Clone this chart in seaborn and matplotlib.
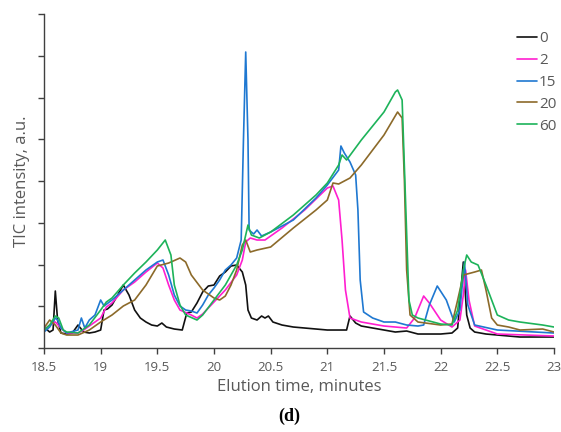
#!/usr/bin/env python3
"""TIC chromatograms, panel (d)"""

import pandas as pd
import numpy as np
import matplotlib
matplotlib.use('Agg')
import matplotlib.pyplot as plt
import seaborn as sns

sns.set_theme(style='white')
plt.rcParams['font.family'] = ['Open Sans', 'DejaVu Sans']

# series: retention time (min) and TIC intensity (a.u.)
t0 = [18.5, 18.55, 18.58, 18.6, 18.62, 18.65, 18.7, 18.75, 18.8, 18.85, 18.9, 18.95, 19.0, 19.03,
      19.06, 19.1, 19.15, 19.2, 19.25, 19.3, 19.35, 19.4, 19.45, 19.5, 19.54, 19.58, 19.65, 19.72,
      19.76, 19.8, 19.85, 19.9, 19.95, 20.0, 20.05, 20.1, 20.15, 20.2, 20.25, 20.28, 20.3, 20.33,
      20.38, 20.42, 20.45, 20.48, 20.52, 20.6, 20.7, 20.8, 21.0, 21.1, 21.17, 21.2, 21.25, 21.3,
      21.4, 21.5, 21.6, 21.7, 21.8, 21.9, 22.0, 22.1, 22.15, 22.2, 22.23, 22.26, 22.3, 22.4, 22.5,
      22.7, 22.9, 23.0]
i0 = [21, 16, 18, 57, 28, 15, 14, 15, 23, 16, 15, 16, 18, 38,
      39, 43, 53, 63, 53, 38, 30, 26, 23, 22, 25, 21, 19, 18,
      35, 36, 45, 56, 62, 63, 72, 76, 82, 83, 76, 63, 38, 30,
      28, 32, 30, 32, 26, 23, 21, 20, 18, 18, 18, 32, 25, 22,
      20, 18, 16, 17, 14, 14, 14, 15, 20, 86, 33, 20, 16, 14, 13,
      11, 11, 11]

t2 = [18.5, 18.55, 18.6, 18.65, 18.7, 18.8, 18.85, 18.9, 18.95, 19.0, 19.05, 19.1, 19.2, 19.3,
      19.4, 19.5, 19.55, 19.6, 19.65, 19.7, 19.8, 19.85, 19.9, 20.0, 20.1, 20.2, 20.25, 20.28,
      20.32, 20.38, 20.45, 20.5, 20.6, 20.8, 21.0, 21.05, 21.1, 21.13, 21.16, 21.2, 21.3, 21.5,
      21.7, 21.77, 21.85, 21.9, 22.0, 22.1, 22.17, 22.2, 22.22, 22.25, 22.3, 22.5, 23.0]
i2 = [18, 23, 26, 20, 15, 15, 18, 22, 26, 30, 41, 45, 58, 66,
      76, 85, 80, 63, 48, 38, 33, 30, 34, 46, 58, 73, 88, 106,
      110, 108, 108, 112, 120, 138, 160, 162, 148, 108, 58, 30, 26, 22,
      20, 30, 52, 45, 28, 21, 28, 53, 78, 48, 22, 14, 12]

t15 = [18.5, 18.55, 18.6, 18.62, 18.65, 18.7, 18.8, 18.83, 18.86, 18.9, 18.95, 19.0, 19.03,
       19.1, 19.2, 19.3, 19.4, 19.5, 19.55, 19.6, 19.65, 19.7, 19.75, 19.8, 19.85, 19.9, 19.95,
       20.0, 20.05, 20.1, 20.15, 20.2, 20.24, 20.26, 20.28, 20.3, 20.31, 20.35, 20.38, 20.42,
       20.5, 20.7, 20.9, 21.0, 21.1, 21.12, 21.15, 21.2, 21.25, 21.27, 21.29, 21.32, 21.4, 21.5,
       21.6, 21.7, 21.8, 21.85, 21.9, 21.97, 22.05, 22.12, 22.17, 22.21, 22.24, 22.3, 22.5, 23.0]
i15 = [16, 21, 30, 28, 20, 15, 18, 30, 20, 28, 33, 48, 42,
       48, 58, 68, 78, 86, 88, 73, 53, 42, 38, 37, 35, 43, 53,
       60, 68, 78, 83, 90, 108, 208, 296, 208, 118, 114, 118, 112,
       116, 128, 150, 163, 178, 202, 195, 186, 173, 138, 68, 36, 30, 26,
       26, 23, 22, 23, 43, 62, 48, 26, 38, 86, 43, 23, 18, 15]

t20 = [18.5, 18.55, 18.6, 18.65, 18.7, 18.8, 18.9, 19.0, 19.1, 19.2, 19.3, 19.4, 19.5, 19.6,
       19.7, 19.75, 19.8, 19.9, 20.0, 20.05, 20.1, 20.15, 20.2, 20.25, 20.28, 20.32, 20.38, 20.5,
       20.7, 20.9, 21.0, 21.05, 21.1, 21.2, 21.3, 21.4, 21.5, 21.62, 21.66, 21.68, 21.7, 21.73,
       21.8, 22.0, 22.1, 22.15, 22.2, 22.3, 22.36, 22.4, 22.45, 22.5, 22.6, 22.7, 22.9, 23.0]
i20 = [20, 28, 23, 15, 13, 13, 18, 26, 33, 42, 48, 63, 82, 85,
       90, 86, 73, 58, 50, 48, 52, 63, 78, 103, 108, 96, 98, 101,
       120, 138, 148, 165, 164, 170, 183, 198, 213, 236, 230, 168, 78, 33,
       26, 23, 24, 48, 73, 76, 78, 58, 30, 23, 21, 18, 19, 16]

t60 = [18.5, 18.55, 18.6, 18.63, 18.67, 18.7, 18.8, 18.9, 19.0, 19.05, 19.1, 19.2, 19.3, 19.4,
       19.5, 19.57, 19.62, 19.65, 19.7, 19.75, 19.85, 19.9, 20.0, 20.1, 20.2, 20.25, 20.3, 20.33,
       20.4, 20.5, 20.7, 20.9, 21.0, 21.1, 21.13, 21.17, 21.3, 21.5, 21.6, 21.62, 21.66, 21.69,
       21.72, 21.75, 21.8, 22.0, 22.1, 22.15, 22.2, 22.23, 22.27, 22.33, 22.4, 22.5, 22.6, 22.7,
       22.9, 23.0]
i60 = [18, 23, 32, 30, 18, 16, 15, 23, 38, 46, 50, 63, 75, 86,
       98, 108, 93, 63, 43, 33, 28, 33, 48, 63, 83, 98, 123, 113,
       110, 116, 133, 153, 165, 183, 193, 188, 208, 236, 256, 258, 248, 148,
       48, 33, 30, 24, 23, 38, 78, 93, 86, 83, 63, 33, 28, 26,
       23, 21]

labels = ['0', '2', '15', '20', '60']
colors = ['#111111', '#ff1fd0', '#1f78d1', '#8c6a2a', '#1db35a']

frames = []
for lab, t, v in zip(labels, [t0, t2, t15, t20, t60], [i0, i2, i15, i20, i60]):
    frames.append(pd.DataFrame({'time': t, 'tic': v, 'sample': lab}))
df = pd.concat(frames, ignore_index=True)

fig = plt.figure(figsize=(5.61, 4.32), dpi=100)
ax = fig.add_axes([0.0784, 0.1944, 0.9091, 0.7732])

sns.lineplot(data=df, x='time', y='tic', hue='sample', hue_order=labels,
             palette=colors, sort=False, estimator=None, linewidth=1.2, ax=ax)

ax.set_xlim(18.5, 23)
ax.set_ylim(0, 334)
ax.set_xticks(np.arange(18.5, 23.01, 0.5))
ax.set_xticklabels(['18.5', '19', '19.5', '20', '20.5', '21', '21.5', '22', '22.5', '23'])
ax.set_yticks(np.linspace(0, 334, 9))
ax.set_yticklabels([])

for s in ['top', 'right']:
    ax.spines[s].set_visible(False)
for s in ['left', 'bottom']:
    ax.spines[s].set_color('#404040')
    ax.spines[s].set_linewidth(1.0)
ax.tick_params(axis='both', direction='out', length=4, width=1.0, color='#404040',
               labelsize=9.5, labelcolor='#595959', bottom=True, left=True, pad=5)

ax.set_xlabel('Elution time, minutes', fontsize=12, color='#595959', labelpad=4)
ax.set_ylabel('TIC intensity, a.u.', fontsize=12, color='#595959', labelpad=1)

handles, _ = ax.get_legend_handles_labels()
leg = ax.legend(handles, labels, loc='upper left', bbox_to_anchor=(0.915, 0.967),
                frameon=False, fontsize=11, handlelength=1.3, handletextpad=0.15,
                labelspacing=0.45, borderaxespad=0)
for txt in leg.get_texts():
    txt.set_color('#595959')

fig.text(0.515, 0.037, '(d)', family=['Liberation Serif', 'DejaVu Serif'],
         fontweight='bold', fontsize=13, ha='center', va='center', color='black')

fig.savefig('out.png', dpi=100)
